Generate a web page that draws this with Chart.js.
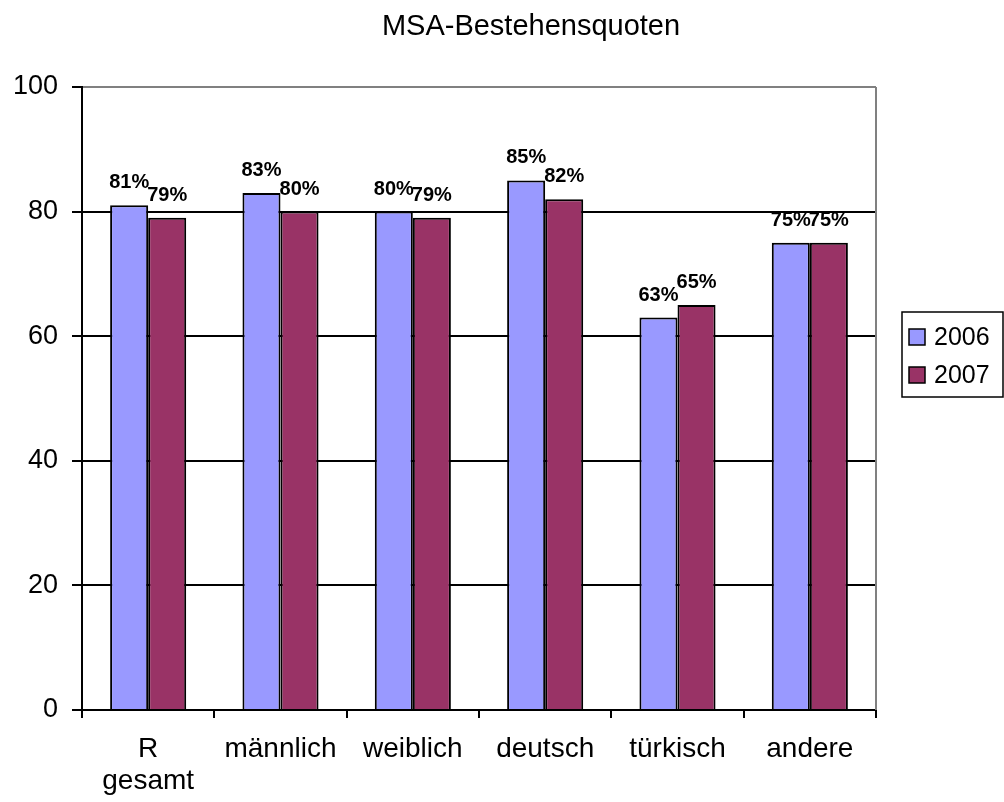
<!DOCTYPE html>
<html>
<head>
<meta charset="utf-8">
<script src="https://cdn.jsdelivr.net/npm/chart.js@4/dist/chart.umd.min.js"></script>
<style>
html,body{margin:0;padding:0;background:#fff;}
#wrap{width:1004px;height:802px;}
</style>
</head>
<body>
<div id="wrap"><canvas id="c" width="1004" height="802"></canvas></div>
<script>
const categories = [["R", "gesamt"], "männlich", "weiblich", "deutsch", "türkisch", "andere"];
const seriesNames = ["2006", "2007"];
const values2006 = [81, 83, 80, 85, 63, 75];
const values2007 = [79, 80, 79, 82, 65, 75];
const yTicks = [0, 20, 40, 60, 80, 100];
const titleText = "MSA-Bestehensquoten";

const FONT = "'Liberation Sans', Arial, sans-serif";
const colors = ["#9999FF", "#993366"];

const extras = {
  id: 'extras',
  afterDatasetsDraw(chart) {
    const ctx = chart.ctx;
    ctx.save();
    ctx.font = "bold 20px " + FONT;
    ctx.fillStyle = "#000";
    ctx.textAlign = "center";
    ctx.textBaseline = "alphabetic";
    chart.data.datasets.forEach((ds, i) => {
      const meta = chart.getDatasetMeta(i);
      meta.data.forEach((bar, j) => {
        ctx.fillText(ds.data[j] + "%", bar.x, bar.y - 17);
      });
    });
    ctx.restore();
  },
  afterDraw(chart) {
    const ctx = chart.ctx;
    const a = chart.chartArea;
    ctx.save();
    // right border (gray)
    ctx.strokeStyle = "#808080";
    ctx.lineWidth = 2;
    ctx.beginPath();
    ctx.moveTo(a.right, a.top);
    ctx.lineTo(a.right, a.bottom);
    ctx.stroke();
    // title
    ctx.fillStyle = "#000";
    ctx.font = "29px " + FONT;
    ctx.textAlign = "center";
    ctx.textBaseline = "alphabetic";
    ctx.fillText(titleText, 531, 35);
    // legend
    const lx = a.right + 26, ly = 312, lw = 101, lh = 85;
    ctx.strokeStyle = "#000";
    ctx.lineWidth = 1.5;
    ctx.strokeRect(lx, ly, lw, lh);
    ctx.font = "25px " + FONT;
    ctx.textAlign = "left";
    ctx.textBaseline = "middle";
    seriesNames.forEach((name, i) => {
      const cy = ly + 25 + i * 38;
      ctx.fillStyle = colors[i];
      ctx.fillRect(lx + 7, cy - 8, 16, 16);
      ctx.strokeStyle = "#000";
      ctx.lineWidth = 1.5;
      ctx.strokeRect(lx + 7, cy - 8, 16, 16);
      ctx.fillStyle = "#000";
      ctx.fillText(name, lx + 32, cy + 1);
    });
    ctx.restore();
  }
};

new Chart(document.getElementById('c'), {
  type: 'bar',
  data: {
    labels: categories,
    datasets: [
      { label: seriesNames[0], data: values2006, backgroundColor: colors[0], borderColor: "#000", borderWidth: 2, borderSkipped: 'bottom' },
      { label: seriesNames[1], data: values2007, backgroundColor: colors[1], borderColor: "#000", borderWidth: 2, borderSkipped: 'bottom' }
    ]
  },
  options: {
    responsive: false,
    animation: false,
    devicePixelRatio: 1,
    layout: { padding: { top: 87, right: 128, left: 0, bottom: 0 } },
    plugins: { legend: { display: false }, title: { display: false }, tooltip: { enabled: false } },
    datasets: { bar: { categoryPercentage: 0.575, barPercentage: 1.0 } },
    scales: {
      x: {
        grid: { offset: true, drawOnChartArea: false, tickLength: 8, color: "#000", lineWidth: 2 },
        border: { color: "#000", width: 2 },
        ticks: { color: "#000", font: { family: FONT, size: 28, lineHeight: 1.15 }, padding: 15, maxRotation: 0, autoSkip: false },
        afterFit(s) { s.height = 92; }
      },
      y: {
        min: 0, max: 100,
        afterBuildTicks(s) { s.ticks = yTicks.map(v => ({ value: v })); },
        grid: {
          color: (c) => (c.tick && c.tick.value === 100) ? "#808080" : "#000",
          tickColor: "#000",
          lineWidth: 2, tickLength: 10
        },
        border: { color: "#000", width: 2 },
        ticks: { color: "#000", font: { family: FONT, size: 27 }, padding: 14 },
        afterFit(s) { s.width = 82; }
      }
    }
  },
  plugins: [extras]
});
</script>
</body>
</html>
